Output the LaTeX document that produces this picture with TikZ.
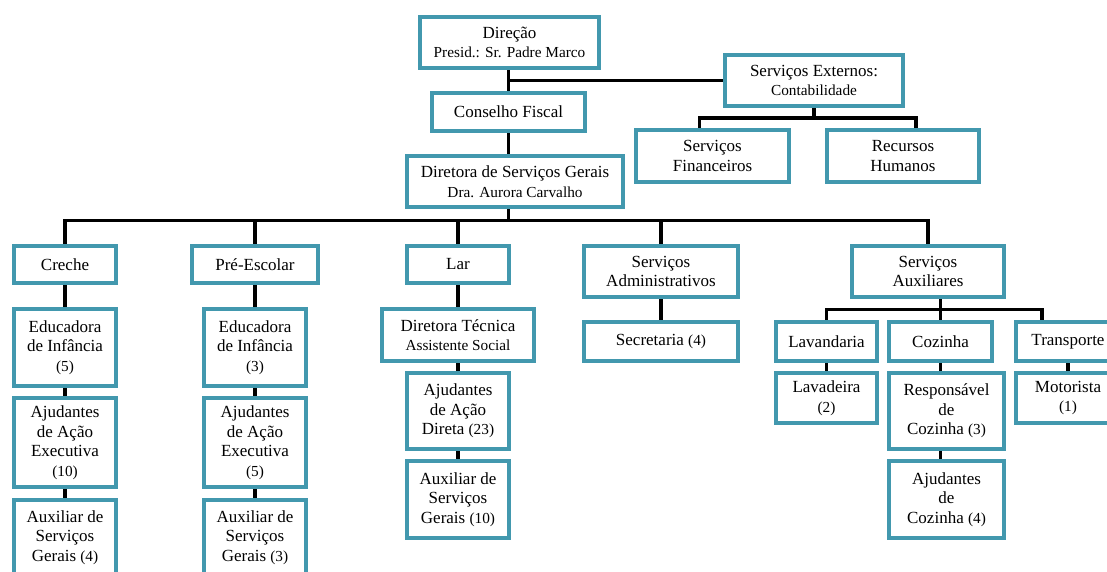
\documentclass[tikz,border=0pt]{standalone}
\usepackage{fontspec}
\setmainfont{Liberation Serif}
\usetikzlibrary{backgrounds}
\definecolor{boxc}{HTML}{4298AE}
\newcommand{\sm}[1]{{\fontsize{15.3}{19}\selectfont #1}}
\tikzset{
  box/.style={draw=boxc, line width=3.3pt, inner sep=0pt, outer sep=0pt, align=center, fill=white,
    font=\fontsize{17}{19.5}\selectfont},
  conn/.style={draw=black, line width=3.2pt, line join=miter}
}
\newcommand{\bx}[6]{%
  \pgfmathsetmacro\bxcx{(#2+#4)/2}%
  \pgfmathsetmacro\bxcy{(#3+#5)/2}%
  \pgfmathsetmacro\bxw{#4-#2}%
  \pgfmathsetmacro\bxh{#5-#3}%
  \node[box, minimum width=\bxw pt, minimum height=\bxh pt] (#1) at (\bxcx,\bxcy) {#6};}
\begin{document}
\begin{tikzpicture}[x=1pt,y=-1pt]
\useasboundingbox (0,0) rectangle (1107,571);
\clip (0,0) rectangle (1107,571);
% top
\bx{dir}{420}{17}{599}{68}{Direção\\\sm{Presid.: Sr. Padre Marco}}
\bx{se}{725}{55}{903}{106}{Serviços Externos:\\\sm{Contabilidade}}
\bx{cf}{432}{93}{585}{131}{Conselho Fiscal}
\bx{dsg}{407}{156}{623}{207}{Diretora de Serviços Gerais\\\sm{Dra. Aurora Carvalho}}
\bx{sf}{636}{130}{789}{182}{Serviços\\Financeiros}
\bx{rh}{827}{130}{979}{182}{Recursos\\Humanos}
% level 2
\bx{creche}{14}{246}{116}{283}{Creche}
\bx{pre}{192}{246}{318}{283}{Pré-Escolar}
\bx{lar}{407}{246}{509}{283}{Lar}
\bx{sadm}{584}{246}{738}{297}{Serviços\\Administrativos}
\bx{saux}{852}{246}{1004}{297}{Serviços\\Auxiliares}
% creche column
\bx{ed5}{14}{309}{116}{386}{Educadora\\de Infância\\\sm{(5)}}
\bx{aj10}{14}{398}{116}{487}{Ajudantes\\de Ação\\Executiva\\\sm{(10)}}
\bx{ax4}{14}{500}{116}{575}{Auxiliar de\\Serviços\\Gerais \sm{(4)}}
% pre column
\bx{ed3}{204}{309}{306}{386}{Educadora\\de Infância\\\sm{(3)}}
\bx{aj5}{204}{398}{306}{487}{Ajudantes\\de Ação\\Executiva\\\sm{(5)}}
\bx{ax3}{204}{500}{306}{575}{Auxiliar de\\Serviços\\Gerais \sm{(3)}}
% lar column
\bx{dt}{382}{309}{534}{361}{Diretora Técnica\\\sm{Assistente Social}}
\bx{ajd}{407}{373}{509}{449}{Ajudantes\\de Ação\\Direta \sm{(23)}}
\bx{ax10}{407}{461}{509}{538}{Auxiliar de\\Serviços\\Gerais \sm{(10)}}
% admin
\bx{sec}{584}{322}{738}{361}{Secretaria \sm{(4)}}
% aux
\bx{lav}{776}{322}{877}{361}{Lavandaria}
\bx{coz}{889}{322}{992}{361}{Cozinha}
\bx{tra}{1016}{322}{1120}{361}{Transporte}
\bx{lvd}{776}{373}{877}{423}{Lavadeira\\\sm{(2)}}
\bx{resp}{889}{373}{1004}{449}{Responsável\\de\\Cozinha \sm{(3)}}
\bx{ajc}{889}{461}{1004}{538}{Ajudantes\\de\\Cozinha \sm{(4)}}
\bx{mot}{1016}{373}{1120}{423}{Motorista\\\sm{(1)}}
\begin{scope}[on background layer]
\fill[white] (0,0) rectangle (1107,571);
% connectors top
\draw[conn] (dir.south -| cf.north) -- (cf.north);
\draw[conn] (se.west) -- (se.west -| cf.north);
\draw[conn] (cf.south) -- (cf.south |- dsg.north);
\draw[conn] (se.south) -- ++(0,12) coordinate (je);
\draw[conn] ([xshift=-13pt]sf.north) |- (je) -| ([xshift=13pt]rh.north);
% main bus
\draw[conn] (dsg.south -| cf.south) -- ++(0,13.5) coordinate (jm);
\draw[conn] (creche.north) |- (jm) -| (saux.north);
\draw[conn] (pre.north) -- (pre.north |- jm);
\draw[conn] (lar.north) -- (lar.north |- jm);
\draw[conn] (sadm.north) -- (sadm.north |- jm);
% columns
\draw[conn] (creche.south) -- (ed5.north);
\draw[conn] (ed5.south) -- (aj10.north);
\draw[conn] (aj10.south) -- (ax4.north);
\draw[conn] (pre.south) -- (ed3.north);
\draw[conn] (ed3.south) -- (aj5.north);
\draw[conn] (aj5.south) -- (ax3.north);
\draw[conn] (lar.south) -- (dt.north);
\draw[conn] (dt.south) -- (ajd.north);
\draw[conn] (ajd.south) -- (ax10.north);
\draw[conn] (sadm.south) -- (sec.north);
% aux sub-bus
\draw[conn] (saux.south -| coz.north) -- ++(0,12.5) coordinate (ja);
\draw[conn] (lav.north) |- (ja) -| ([xshift=-26pt]tra.north);
\draw[conn] (coz.north) -- (ja);
\draw[conn] (lav.south) -- (lvd.north);
\draw[conn] (coz.south) -- (resp.north -| coz.south);
\draw[conn] (resp.south -| coz.south) -- (ajc.north -| coz.south);
\draw[conn] (tra.south) -- (mot.north);
\end{scope}
\end{tikzpicture}
\end{document}
